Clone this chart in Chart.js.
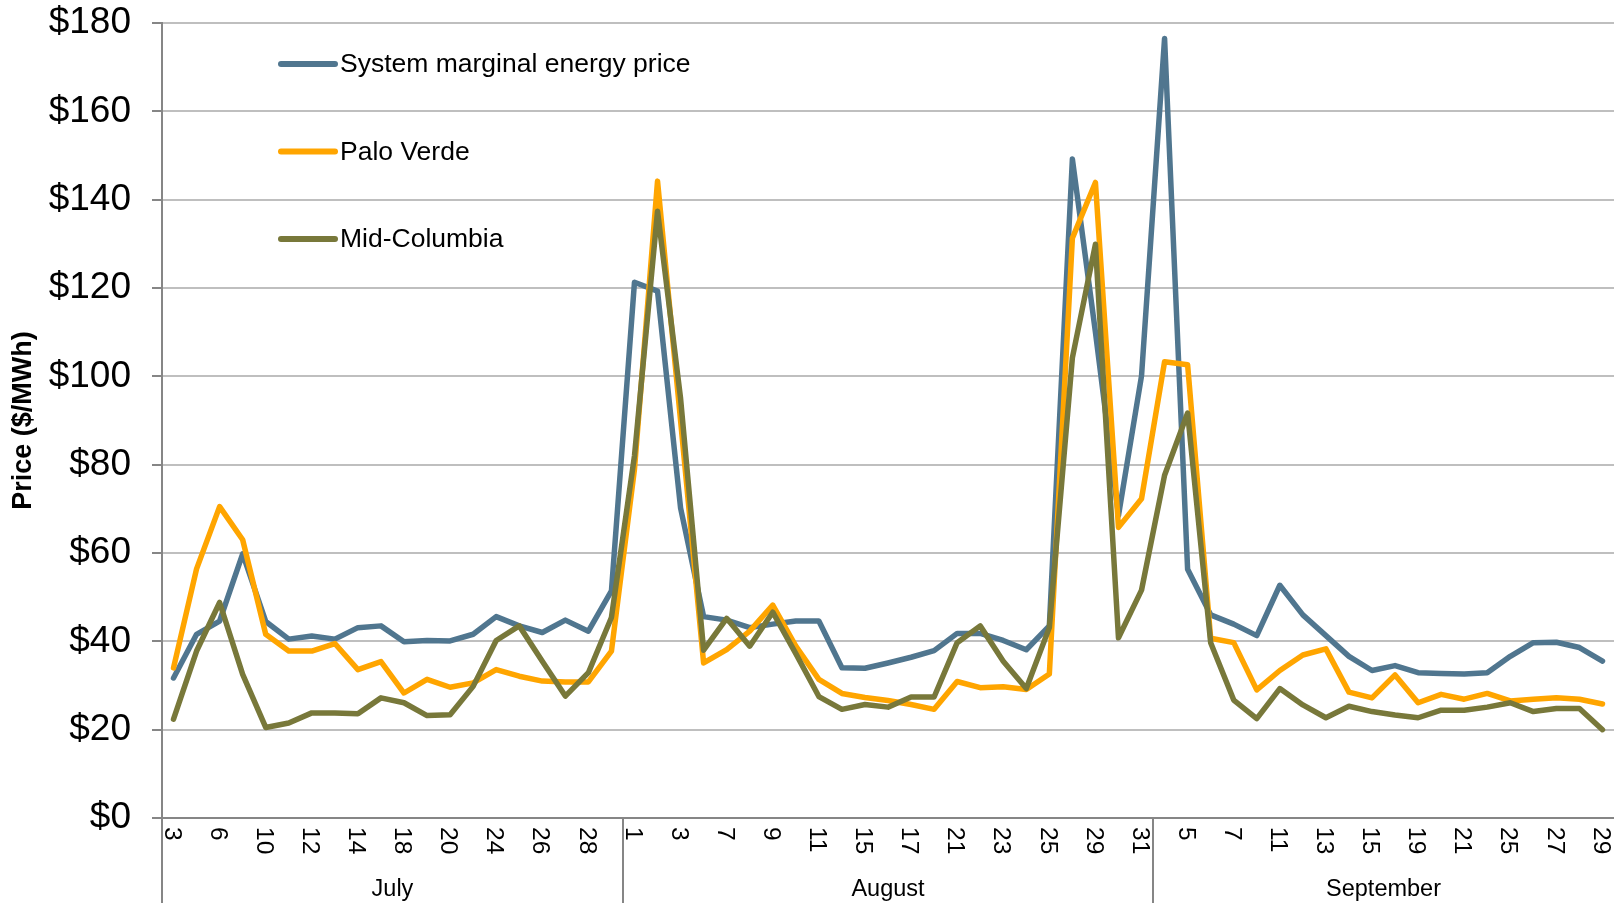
<!DOCTYPE html>
<html>
<head>
<meta charset="utf-8">
<script src="https://cdn.jsdelivr.net/npm/chart.js@4.4.1/dist/chart.umd.min.js"></script>
<style>
  html, body { margin: 0; padding: 0; background: #ffffff; }
  #wrap { width: 1614px; height: 903px; position: relative; }
</style>
</head>
<body>
<div id="wrap"><canvas id="c" width="1614" height="903"></canvas></div>
<script>
// ---- Data ----
const months = ['July', 'August', 'September'];
const julyDays = ['3','5','6','7','10','11','12','13','14','17','18','19','20','21','24','25','26','27','28','31'];
const augustDays = ['1','2','3','4','7','8','9','10','11','14','15','16','17','18','21','22','23','24','25','28','29','30','31'];
const septemberDays = ['1','5','6','7','8','11','12','13','14','15','18','19','20','21','22','25','26','27','28','29'];

const systemPrice = [
  31.7, 41.6, 44.6, 59.8, 44.5, 40.5, 41.2, 40.5, 43.1, 43.5, 39.9, 40.2, 40.1, 41.6, 45.6, 43.5, 42.0, 44.8, 42.3, 51.4,
  121.3, 119.3, 70.2, 45.6, 44.8, 43.1, 43.9, 44.6, 44.6, 34.0, 33.9, 35.1, 36.4, 37.9, 41.8, 41.8, 40.2, 38.1, 43.5, 149.2, 110.0, 68.5, 100.1,
  176.5, 56.3, 46.0, 43.9, 41.3, 52.7, 46.0, 41.3, 36.6, 33.4, 34.5, 32.9, 32.7, 32.6, 32.9, 36.6, 39.7, 39.8, 38.6, 35.5
];
const paloVerde = [
  34.0, 56.4, 70.5, 63.0, 41.6, 37.8, 37.8, 39.5, 33.6, 35.4, 28.3, 31.4, 29.6, 30.6, 33.6, 32.1, 31.0, 30.8, 30.8, 37.8,
  79.0, 144.2, 90.0, 35.1, 38.1, 42.3, 48.2, 38.9, 31.4, 28.2, 27.3, 26.6, 25.7, 24.6, 30.9, 29.5, 29.7, 29.1, 32.6, 131.3, 143.9, 65.8, 72.3,
  103.3, 102.6, 40.7, 39.7, 29.0, 33.4, 36.9, 38.3, 28.5, 27.2, 32.4, 26.1, 28.0, 26.9, 28.2, 26.5, 26.9, 27.2, 26.9, 25.8
];
const midColumbia = [
  22.4, 37.8, 48.8, 32.5, 20.5, 21.5, 23.8, 23.8, 23.6, 27.2, 26.1, 23.2, 23.4, 29.8, 40.2, 43.5, 35.5, 27.6, 32.9, 45.4,
  82.0, 137.4, 95.0, 38.0, 45.2, 38.9, 46.6, 37.2, 27.5, 24.6, 25.7, 25.1, 27.4, 27.4, 39.7, 43.5, 35.5, 29.3, 43.1, 104.2, 129.9, 40.8, 51.6,
  77.6, 91.7, 39.7, 26.7, 22.5, 29.3, 25.6, 22.7, 25.3, 24.1, 23.3, 22.7, 24.4, 24.4, 25.1, 26.1, 24.1, 24.8, 24.8, 20.0
];
const seriesNames = ['System marginal energy price', 'Palo Verde', 'Mid-Columbia'];
const yMin = 0, yMax = 180, yStep = 20;

// ---- Derived ----
const monthDays = [julyDays, augustDays, septemberDays];
const dayLabels = [].concat(julyDays, augustDays, septemberDays);

const FONT = '"Liberation Sans", Arial, Helvetica, sans-serif';
const AXIS_GRAY = '#868686';

const customAxisPlugin = {
  id: 'customAxis',
  afterDraw(chart) {
    const ctx = chart.ctx;
    const xs = chart.scales.x;
    const area = chart.chartArea;
    const H = 903;
    ctx.save();

    // rotated day labels (every other category)
    const fs = 24.5;
    ctx.fillStyle = '#000';
    ctx.font = fs + 'px ' + FONT;
    ctx.textAlign = 'left';
    ctx.textBaseline = 'alphabetic';
    dayLabels.forEach((d, i) => {
      if (i % 2 !== 0) return;
      const px = xs.getPixelForValue(i);
      ctx.save();
      ctx.translate(px, area.bottom + 9);
      ctx.rotate(Math.PI / 2);
      ctx.fillText(d, 0, 0.36 * fs);
      ctx.restore();
    });

    // month group dividers and names
    ctx.strokeStyle = AXIS_GRAY;
    ctx.lineWidth = 2;
    const step = (xs.getPixelForValue(1) - xs.getPixelForValue(0));
    let start = 0;
    const bounds = [];
    monthDays.forEach((arr) => {
      const left = xs.getPixelForValue(start) - step / 2;
      const right = xs.getPixelForValue(start + arr.length - 1) + step / 2;
      bounds.push([left, right]);
      start += arr.length;
    });
    ctx.beginPath();
    ctx.moveTo(area.left, area.bottom);
    ctx.lineTo(area.left, H);
    ctx.stroke();
    bounds.forEach((b, k) => {
      if (k < bounds.length - 1) {
        ctx.beginPath();
        ctx.moveTo(Math.round(b[1]), area.bottom);
        ctx.lineTo(Math.round(b[1]), H);
        ctx.stroke();
      }
    });
    ctx.font = '23.5px ' + FONT;
    ctx.textAlign = 'center';
    ctx.textBaseline = 'alphabetic';
    ctx.fillStyle = '#000';
    bounds.forEach((b, k) => {
      ctx.fillText(months[k], (b[0] + b[1]) / 2, area.bottom + 78);
    });

    // legend
    const ly = [64, 151.5, 239];
    chart.data.datasets.forEach((ds, k) => {
      ctx.beginPath();
      ctx.strokeStyle = ds.borderColor;
      ctx.lineWidth = 6;
      ctx.lineCap = 'round';
      ctx.moveTo(281, ly[k]);
      ctx.lineTo(335, ly[k]);
      ctx.stroke();
      ctx.fillStyle = '#000';
      ctx.font = '26.5px ' + FONT;
      ctx.textAlign = 'left';
      ctx.textBaseline = 'middle';
      ctx.fillText(ds.label, 340, ly[k] + 1);
    });
    ctx.restore();
  }
};

const lineCommon = {
  borderWidth: 5.5,
  pointRadius: 0,
  pointHoverRadius: 0,
  tension: 0,
  fill: false,
  borderJoinStyle: 'round',
  borderCapStyle: 'round'
};

new Chart(document.getElementById('c'), {
  type: 'line',
  data: {
    labels: dayLabels,
    datasets: [
      Object.assign({ label: seriesNames[0], data: systemPrice, borderColor: '#50768F', order: 3 }, lineCommon),
      Object.assign({ label: seriesNames[1], data: paloVerde, borderColor: '#FFA500', order: 2 }, lineCommon),
      Object.assign({ label: seriesNames[2], data: midColumbia, borderColor: '#78783A', order: 1 }, lineCommon)
    ]
  },
  options: {
    responsive: false,
    animation: false,
    events: [],
    layout: { padding: { top: 23, left: 0, right: 0, bottom: 0 } },
    plugins: { legend: { display: false }, tooltip: { enabled: false }, title: { display: false } },
    scales: {
      x: {
        type: 'category',
        offset: true,
        grid: { display: false, drawTicks: false },
        border: { display: true, color: AXIS_GRAY, width: 2 },
        ticks: { display: false },
        afterFit(scale) { scale.height = 85; scale.paddingLeft = 0; scale.paddingRight = 0; }
      },
      y: {
        min: yMin,
        max: yMax,
        ticks: {
          stepSize: yStep,
          color: '#000',
          padding: 21,
          font: { family: FONT, size: 37 },
          callback: (v) => '$' + v
        },
        grid: { color: '#BFBFBF', lineWidth: 2, tickLength: 10, tickColor: AXIS_GRAY },
        border: { display: true, color: AXIS_GRAY, width: 2 },
        title: {
          display: true,
          text: 'Price ($/MWh)',
          color: '#000',
          font: { family: FONT, size: 27, weight: 'bold' },
          padding: { top: 7, bottom: 0 }
        },
        afterFit(scale) { scale.width = 162; scale.paddingTop = 0; scale.paddingBottom = 0; }
      }
    }
  },
  plugins: [customAxisPlugin]
});
</script>
</body>
</html>
